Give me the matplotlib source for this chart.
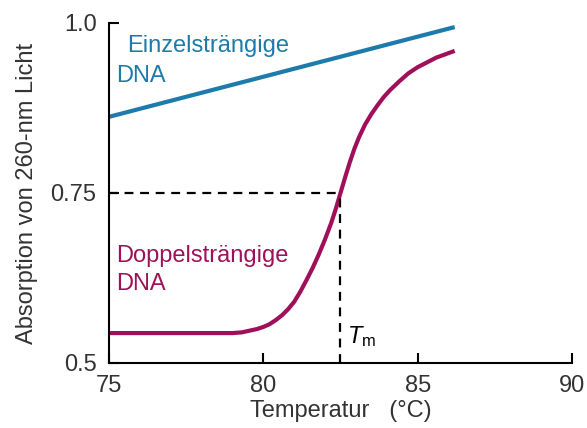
import matplotlib
matplotlib.use("Agg")
import matplotlib.pyplot as plt

plt.rcParams['font.family'] = ['Liberation Sans', 'DejaVu Sans']
plt.rcParams['mathtext.fontset'] = 'custom'
plt.rcParams['mathtext.rm'] = 'Liberation Sans'
plt.rcParams['mathtext.it'] = 'Liberation Sans:italic'

# single-stranded DNA (straight line)
temp_ss = [75.0, 86.2]
abs_ss = [0.862, 0.994]

# double-stranded DNA melting curve
temp_ds = [75.0, 79.0, 79.3, 79.6, 79.8, 80.0, 80.2, 80.4, 80.6, 80.8, 81.0,
           81.2, 81.4, 81.6, 81.8, 82.0, 82.2, 82.35, 82.5, 82.65, 82.8,
           82.95, 83.1, 83.3, 83.5, 83.7, 83.9, 84.1, 84.4, 84.7, 85.0,
           85.3, 85.6, 85.9, 86.2]
abs_ds = [0.544, 0.544, 0.545, 0.548, 0.550, 0.553, 0.557, 0.563, 0.570, 0.579,
          0.590, 0.605, 0.622, 0.640, 0.660, 0.682, 0.706, 0.727, 0.750, 0.773,
          0.795, 0.815, 0.832, 0.851, 0.866, 0.879, 0.891, 0.901, 0.914, 0.926,
          0.935, 0.942, 0.949, 0.954, 0.959]

tm = 82.5
abs_tm = 0.75

x_ticks = [75, 80, 85, 90]
y_ticks = [0.5, 0.75, 1.0]
y_ticklabels = ['0.5', '0.75', '1.0']

blue = '#1d7bab'
magenta = '#a0105a'
grey = '#333333'

fig = plt.figure(figsize=(5.87, 4.28), dpi=100)
ax = fig.add_axes([0.1857, 0.1519, 0.7887, 0.7944])

ax.plot(temp_ss, abs_ss, color=blue, lw=3.0, solid_capstyle='butt')
ax.plot(temp_ds, abs_ds, color=magenta, lw=3.0, solid_capstyle='butt',
        solid_joinstyle='round')

# Tm helper lines
ax.plot([75, tm], [abs_tm, abs_tm], color='black', lw=1.6, ls=(0, (4, 3)))
ax.plot([tm, tm], [0.5, abs_tm], color='black', lw=1.6, ls=(0, (4, 3)))

fs = 17
ax.text(75.6, 0.957, 'Einzelsträngige', color=blue, fontsize=fs, va='baseline')
ax.text(75.22, 0.913, 'DNA', color=blue, fontsize=fs, va='baseline')
ax.text(75.22, 0.649, 'Doppelsträngige', color=magenta, fontsize=fs, va='baseline')
ax.text(75.22, 0.608, 'DNA', color=magenta, fontsize=fs, va='baseline')
ax.text(82.7, 0.529, r'$T_{\mathrm{m}}$', color='black', fontsize=fs, va='baseline')

ax.set_xlim(75, 90)
ax.set_ylim(0.5, 1.0)
ax.set_xticks(x_ticks)
ax.set_yticks(y_ticks)
ax.set_yticklabels(y_ticklabels)
ax.tick_params(direction='in', length=7, width=1.5, labelsize=fs,
               labelcolor=grey)
ax.tick_params(axis='y', pad=9)
ax.tick_params(axis='x', pad=9)
for s in ['top', 'right']:
    ax.spines[s].set_visible(False)
for s in ['left', 'bottom']:
    ax.spines[s].set_linewidth(1.5)

ax.set_xlabel('Temperatur   (°C)', fontsize=fs, color=grey, labelpad=2)
ax.set_ylabel('Absorption von 260-nm Licht', fontsize=fs, color=grey, labelpad=9)

fig.savefig('out.png', dpi=100)
